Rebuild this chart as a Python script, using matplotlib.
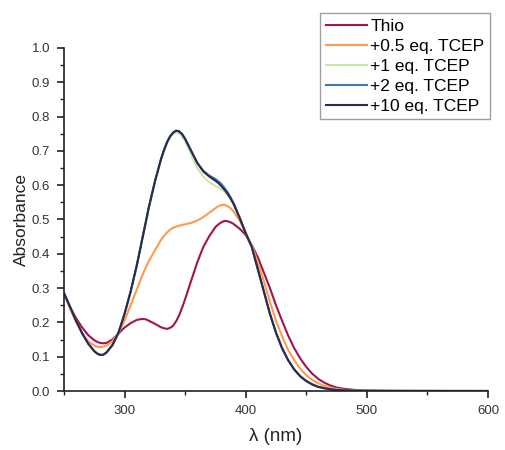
import matplotlib
matplotlib.use("Agg")
import matplotlib.pyplot as plt
from matplotlib.ticker import MultipleLocator, FixedLocator, FormatStrFormatter

plt.rcParams['font.family'] = ['Liberation Sans', 'DejaVu Sans']

wavelength = [250, 255, 260, 265, 270, 275, 277.5, 280, 282.5, 285,
              290, 295, 300, 305, 310, 312.5, 315, 317.5, 320, 325,
              330, 332.5, 335, 337.5, 340, 342.5, 345, 347.5, 350, 355,
              360, 365, 370, 375, 377.5, 380, 382.5, 385, 387.5, 390,
              395, 400, 405, 410, 415, 420, 425, 430, 435, 440,
              445, 450, 455, 460, 465, 470, 475, 480, 490, 500,
              520, 550, 600]

thio = [0.285, 0.245, 0.212, 0.185, 0.163, 0.148, 0.143, 0.140, 0.139, 0.140,
        0.150, 0.168, 0.185, 0.198, 0.207, 0.209, 0.210, 0.209, 0.205, 0.196,
        0.186, 0.183, 0.181, 0.184, 0.190, 0.203, 0.220, 0.243, 0.268, 0.322,
        0.375, 0.420, 0.452, 0.478, 0.486, 0.492, 0.496, 0.495, 0.492, 0.487,
        0.473, 0.455, 0.425, 0.390, 0.345, 0.300, 0.250, 0.205, 0.162, 0.125,
        0.095, 0.070, 0.050, 0.035, 0.024, 0.016, 0.010, 0.007, 0.003, 0.0012,
        0.0004, 0.0002, 0.0]

eq05 = [0.285, 0.240, 0.200, 0.168, 0.145, 0.132, 0.129, 0.128, 0.129, 0.132,
        0.145, 0.170, 0.205, 0.250, 0.295, 0.318, 0.340, 0.360, 0.378, 0.410,
        0.440, 0.452, 0.462, 0.470, 0.476, 0.479, 0.482, 0.484, 0.486, 0.490,
        0.497, 0.507, 0.520, 0.533, 0.539, 0.542, 0.543, 0.539, 0.533, 0.523,
        0.497, 0.460, 0.425, 0.375, 0.320, 0.260, 0.205, 0.160, 0.120, 0.090,
        0.065, 0.046, 0.032, 0.022, 0.015, 0.010, 0.006, 0.004, 0.0015, 0.0007,
        0.0002, 0.0001, 0.0]

eq1 = [0.285, 0.245, 0.205, 0.168, 0.138, 0.116, 0.109, 0.105, 0.106, 0.112,
       0.134, 0.170, 0.225, 0.290, 0.365, 0.407, 0.450, 0.492, 0.535, 0.610,
       0.675, 0.700, 0.722, 0.739, 0.750, 0.754, 0.752, 0.742, 0.728, 0.688,
       0.650, 0.625, 0.608, 0.598, 0.593, 0.588, 0.581, 0.572, 0.560, 0.545,
       0.505, 0.460, 0.420, 0.355, 0.290, 0.225, 0.170, 0.125, 0.090, 0.063,
       0.043, 0.029, 0.019, 0.012, 0.008, 0.005, 0.003, 0.002, 0.001, 0.0005,
       0.0002, 0.0001, 0.0]

eq2 = [0.285, 0.245, 0.205, 0.168, 0.138, 0.116, 0.109, 0.105, 0.106, 0.112,
       0.134, 0.170, 0.225, 0.290, 0.365, 0.407, 0.450, 0.492, 0.535, 0.610,
       0.675, 0.702, 0.725, 0.742, 0.753, 0.759, 0.757, 0.749, 0.735, 0.700,
       0.665, 0.642, 0.628, 0.618, 0.611, 0.603, 0.592, 0.580, 0.565, 0.548,
       0.505, 0.460, 0.420, 0.355, 0.290, 0.225, 0.170, 0.125, 0.090, 0.063,
       0.043, 0.029, 0.019, 0.012, 0.008, 0.005, 0.003, 0.002, 0.001, 0.0005,
       0.0002, 0.0001, 0.0]

eq10 = [0.285, 0.245, 0.205, 0.168, 0.138, 0.116, 0.109, 0.105, 0.106, 0.112,
        0.134, 0.170, 0.225, 0.290, 0.365, 0.407, 0.450, 0.492, 0.535, 0.610,
        0.675, 0.702, 0.725, 0.742, 0.753, 0.759, 0.757, 0.749, 0.735, 0.700,
        0.665, 0.640, 0.625, 0.613, 0.606, 0.597, 0.587, 0.575, 0.561, 0.545,
        0.505, 0.460, 0.420, 0.355, 0.290, 0.225, 0.170, 0.125, 0.090, 0.063,
        0.043, 0.029, 0.019, 0.012, 0.008, 0.005, 0.003, 0.002, 0.001, 0.0005,
        0.0002, 0.0001, 0.0]

labels = ["Thio", "+0.5 eq. TCEP", "+1 eq. TCEP", "+2 eq. TCEP", "+10 eq. TCEP"]
colors = ["#A3134F", "#FF9A4D", "#C9E8A8", "#3F78B5", "#2B2B4D"]
series = [thio, eq05, eq1, eq2, eq10]

fig = plt.figure(figsize=(5.05, 4.5), dpi=100)
ax = fig.add_axes([64/505, 1-391/450, (488-64)/505, (391-48)/450])

for ys, lab, col in zip(series, labels, colors):
    ax.plot(wavelength, ys, color=col, lw=1.5, label=lab,
            solid_joinstyle='round')

ax.set_xlim(250, 600)
ax.set_ylim(0.0, 1.0)
ax.xaxis.set_major_locator(FixedLocator([300, 400, 500, 600]))
ax.xaxis.set_minor_locator(FixedLocator([250, 350, 450, 550]))
ax.yaxis.set_major_locator(MultipleLocator(0.1))
ax.yaxis.set_minor_locator(MultipleLocator(0.05))
ax.yaxis.set_major_formatter(FormatStrFormatter('%.1f'))

for s in ['top', 'right']:
    ax.spines[s].set_visible(False)
for s in ['left', 'bottom']:
    ax.spines[s].set_linewidth(1.2)
    ax.spines[s].set_color('#222222')

ax.tick_params(which='major', direction='out', length=5, width=1.2,
               labelsize=9.5, colors='#222222', pad=5)
ax.tick_params(which='minor', direction='out', length=3, width=1.0, colors='#222222')
ax.tick_params(axis='both', labelcolor='#333333')

ax.set_xlabel("λ (nm)", fontsize=13.5, labelpad=8, color='#222222')
ax.set_ylabel("Absorbance", fontsize=12.5, labelpad=2, color='#222222')

leg = ax.legend(loc='upper right', bbox_to_anchor=(490/505, 1-13/450),
                bbox_transform=fig.transFigure, borderaxespad=0,
                fancybox=False, fontsize=12.5, handlelength=2.35,
                handletextpad=0.2, labelspacing=0.28, borderpad=0.32,
                framealpha=1)
leg.get_frame().set_edgecolor('#a0a0a0')
leg.get_frame().set_linewidth(1.0)

fig.savefig("out.png", dpi=100)
